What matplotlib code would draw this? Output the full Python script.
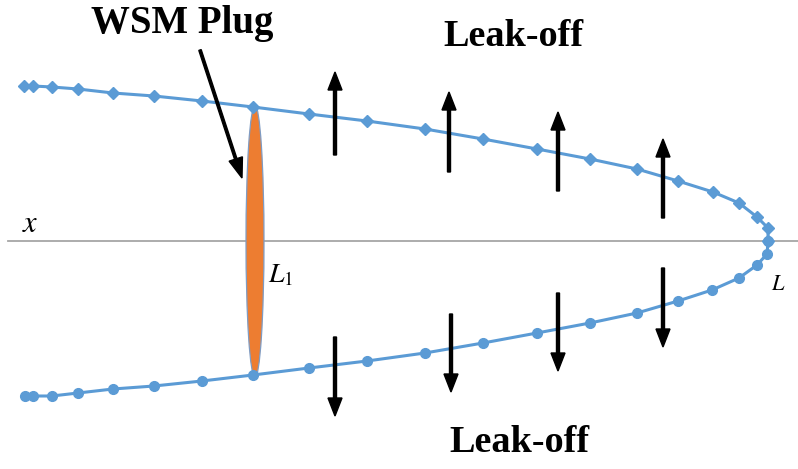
import matplotlib
matplotlib.use('Agg')
import matplotlib.pyplot as plt
from matplotlib.patches import Ellipse

# marker positions along the fracture (pixel-like units, tip at L)
x_upper = [24, 33, 52, 78, 113, 154, 202, 253, 309, 367, 425, 483, 537, 590, 637, 678, 713, 739, 757, 768, 768]
w_upper = [155.5, 155.5, 154.5, 152.5, 148.5, 145.5, 140.5, 134.5, 127.5, 120.5, 112.5, 102.5, 92.5,
           82.5, 72.5, 60.5, 49.5, 38.5, 24.5, 13.5, 0]
x_lower = [25, 33, 52, 78, 113, 154, 202, 253, 309, 367, 425, 483, 537, 590, 637, 678, 712, 739, 757, 767, 768]
w_lower = [154.5, 154.5, 154.5, 151.5, 147.5, 144.5, 139.5, 133.5, 126.5, 119.5, 111.5, 101.5, 91.5,
           81.5, 71.5, 59.5, 48.5, 36.5, 23.5, 12.5, 0]
y_axis = 241.5

# leak-off arrows: x position, tail, head
up_arrows = [(335, 155, 72), (449, 172, 92), (558, 191, 112), (663, 218, 139)]
down_arrows = [(335, 337, 416), (451, 314, 392), (558, 293, 371), (663, 268, 347)]

# plug
plug_x = 255
plug_height = 272
plug_width = 18

blue = '#5B9BD5'

fig = plt.figure(figsize=(7.98, 4.69), dpi=100)
ax = fig.add_axes([0, 0, 1, 1])
ax.set_xlim(0, 798)
ax.set_ylim(469, 0)
ax.axis('off')

# x axis line
ax.plot([8, 798], [y_axis, y_axis], color='#A6A6A6', lw=1.3, zorder=1)

# fracture walls
ax.plot(x_upper, [y_axis - w for w in w_upper], color=blue, lw=2.2, marker='D', ms=6, zorder=3)
ax.plot(x_lower, [y_axis + w for w in w_lower], color=blue, lw=2.2, marker='o', ms=7, zorder=3)

# WSM plug
plug = Ellipse((plug_x, y_axis), width=plug_width, height=plug_height,
               facecolor='#ED7D31', edgecolor='#7F9CC4', lw=0.9, zorder=2)
ax.add_patch(plug)

# leak-off arrows
for x, y0, y1 in up_arrows + down_arrows:
    ax.arrow(x, y0, 0, y1 - y0, width=3, head_width=14, head_length=18,
             length_includes_head=True, color='black', zorder=4)

# pointer to plug
ax.arrow(200, 50, 42, 128, width=2.5, head_width=14, head_length=20,
         length_includes_head=True, color='black', zorder=4)

serif = 'Liberation Serif'
ax.text(182, 24, 'WSM Plug', fontfamily=serif, fontweight='bold', fontsize=28,
        ha='center', va='center')
ax.text(513, 36, 'Leak-off', fontfamily=serif, fontweight='bold', fontsize=27.5,
        ha='center', va='center')
ax.text(519, 443, 'Leak-off', fontfamily=serif, fontweight='bold', fontsize=27.5,
        ha='center', va='center')

plt.rcParams['mathtext.fontset'] = 'stix'
ax.text(30, 223, '$x$', fontsize=22, ha='center', va='center')
ax.text(281, 274, '$L_1$', fontsize=20, ha='center', va='center')
ax.text(778, 284, '$L$', fontsize=16, ha='center', va='center')

fig.savefig('out.png', dpi=100)
